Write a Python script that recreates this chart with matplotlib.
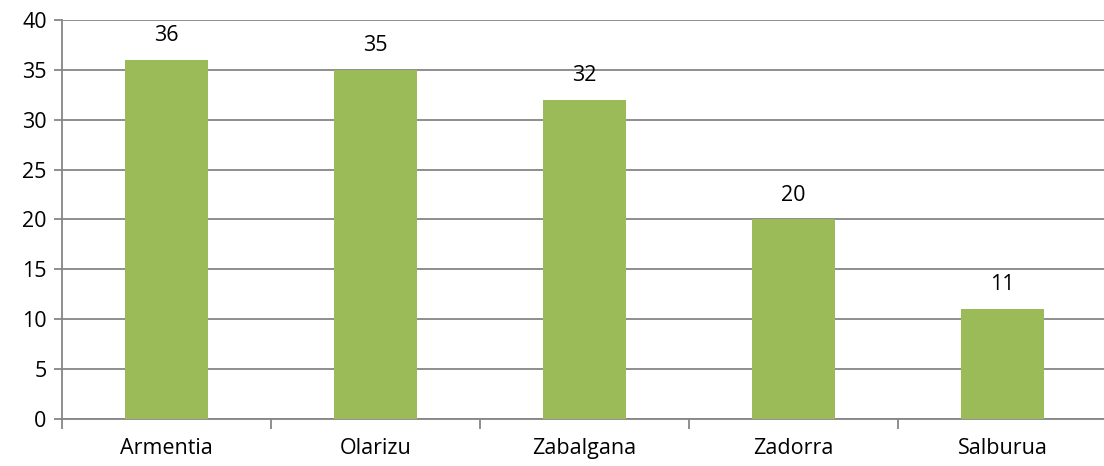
import matplotlib
matplotlib.use("Agg")
import matplotlib.pyplot as plt
import numpy as np

categories = ["Armentia", "Olarizu", "Zabalgana", "Zadorra", "Salburua"]
values = [36, 35, 32, 20, 11]
y_ticks = [0, 5, 10, 15, 20, 25, 30, 35, 40]

plt.rcParams["font.family"] = ["Open Sans", "DejaVu Sans"]
FS = 15.5

fig = plt.figure(figsize=(11.04, 4.66), dpi=100)
# plot area runs slightly past the right edge of the figure, as in the source
ax = fig.add_axes([62 / 1104, 47 / 466, 1045 / 1104, 399 / 466])

x = np.arange(len(categories))
ax.bar(x, values, width=0.40, color="#9BBB59", zorder=3)

# value labels above each bar
for xi, v in zip(x, values):
    ax.annotate(str(v), (xi, v), xytext=(0, 10), textcoords="offset points",
                ha="center", va="bottom", fontsize=FS)

ax.set_xlim(-0.5, len(categories) - 0.5)
ax.set_ylim(0, 40)
ax.set_yticks(y_ticks)
ax.tick_params(axis="y", labelsize=FS, length=6, width=1.3, color="#868686", pad=5)

# category labels centred, tick marks at the category boundaries
ax.set_xticks(x)
ax.set_xticklabels(categories, fontsize=FS)
ax.tick_params(axis="x", which="major", length=0, pad=14)
ax.set_xticks(np.arange(-0.5, len(categories)), minor=True)
ax.tick_params(axis="x", which="minor", length=7, width=1.3, color="#868686")

ax.grid(axis="y", color="#868686", linewidth=1.3, zorder=0)
for side in ["top", "right"]:
    ax.spines[side].set_visible(False)
for side in ["left", "bottom"]:
    ax.spines[side].set_color("#868686")
    ax.spines[side].set_linewidth(1.3)

fig.savefig("out.png", dpi=100)
